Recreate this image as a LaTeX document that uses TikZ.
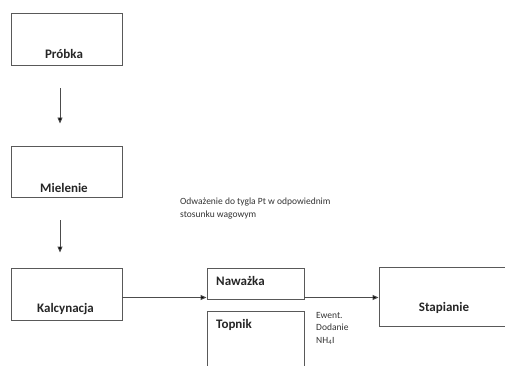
\documentclass[tikz,border=0pt]{standalone}
\usepackage{fontspec}
\setmainfont{Carlito}
\usetikzlibrary{arrows.meta}
\begin{document}
\begin{tikzpicture}[x=1pt,y=-1pt,
  box/.style={draw=black!65, line width=0.9pt, inner sep=0pt},
  title/.style={font=\fontsize{13}{15}\selectfont\bfseries, text=black!85, inner sep=0pt},
  note/.style={font=\fontsize{9.5}{12.5}\selectfont, text=black!80, inner sep=0pt, align=left, anchor=north west},
  arr/.style={draw=black!70, line width=0.9pt, -{Triangle[length=6pt,width=5pt,fill=black]}}]
\useasboundingbox (0,0) rectangle (505,366);

% process boxes
\node[box, minimum width=111pt, minimum height=52pt] (probka) at (66.5,39) {};
\node[title] (probkaT) at (64,54) {Próbka};
\node[box, minimum width=111pt, minimum height=51pt] (mielenie) at (66.5,171.5) {};
\node[title] (mielenieT) at (64,188) {Mielenie};
\node[box, minimum width=111pt, minimum height=52pt] (kalc) at (66.5,294) {};
\node[title] (kalcT) at (65.5,309) {Kalcynacja};

\node[box, minimum width=97pt, minimum height=31pt] (naw) at (255.5,283.5) {};
\node[title, anchor=west] (nawT) at (216,281) {Naważka};

% open-bottomed box for the flux
\coordinate (topTL) at (207,311);
\coordinate (topTR) at (304,311);
\draw[draw=black!65, line width=0.9pt] (207,372) -- (topTL) -- (topTR) -- (304,372);
\node[title, anchor=west] (topT) at (216,325) {Topnik};

\node[box, minimum width=170pt, minimum height=59pt] (stap) at (464,296.5) {};
\node[title] (stapT) at (444,308) {Stapianie};

% notes
\node[note] (odw) at (180,198) {Odważenie do tygla Pt w odpowiednim\\stosunku wagowym};
\node[note] (ewent) at (316,312) {Ewent.\\Dodanie\\NH\textsubscript{4}I};

% connectors
\draw[arr, shorten <=23pt, shorten >=22pt] ([xshift=-6.5pt]probka.south) -- ([xshift=-6.5pt]mielenie.north);
\draw[arr, shorten <=23pt, shorten >=15pt] ([xshift=-6.5pt]mielenie.south) -- ([xshift=-6.5pt]kalc.north);
\coordinate (k1) at ([yshift=-3.5pt]kalc.east);
\draw[arr] (k1) -- (k1 -| naw.west);
\draw[arr] (k1 -| naw.east) -- (k1 -| stap.west);
\end{tikzpicture}
\end{document}
